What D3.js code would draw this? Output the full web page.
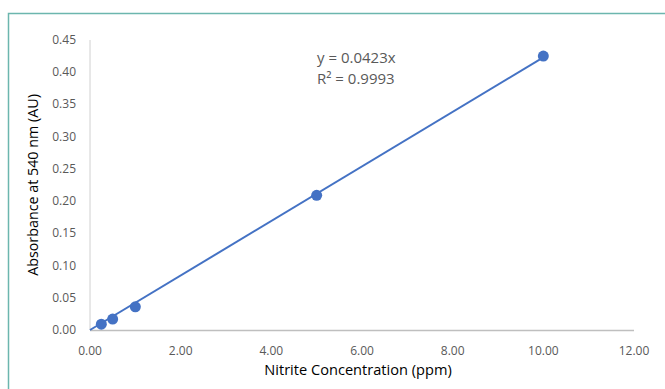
<!DOCTYPE html>
<html><head><meta charset="utf-8">
<script src="https://cdn.jsdelivr.net/npm/d3@7"></script>
<style>body{margin:0;background:#fff}svg{display:block}</style>
</head><body>
<svg id="c" width="665" height="389"></svg>
<script>
const concentration = [0.25, 0.5, 1, 5, 10];
const absorbance = [0.009, 0.017, 0.036, 0.209, 0.425];
const slope = 0.0423;
const xTicks = [0, 2, 4, 6, 8, 10, 12];
const yTicks = [0, 0.05, 0.10, 0.15, 0.20, 0.25, 0.30, 0.35, 0.40, 0.45];
const equationLines = ["y = 0.0423x", "R² = 0.9993"];
const xTitle = "Nitrite Concentration (ppm)";
const yTitle = "Absorbance at 540 nm (AU)";

const svg = d3.select("#c");
const font = "'Open Sans', sans-serif";
// frame
svg.append("path").attr("d","M8.5,389 V13.5 H665").attr("fill","none").attr("stroke","#6cb6ae").attr("stroke-width",1.5);

const x = d3.scaleLinear().domain([0,12]).range([90,634]);
const y = d3.scaleLinear().domain([0,0.45]).range([330,40]);

// axes lines
svg.append("line").attr("x1",x(0)).attr("x2",x(0)).attr("y1",y(0.45)).attr("y2",y(0)).attr("stroke","#d0d0d0").attr("stroke-width",1);
svg.append("line").attr("x1",x(0)).attr("x2",x(12)).attr("y1",y(0)+0.5).attr("y2",y(0)+0.5).attr("stroke","#bfbfbf").attr("stroke-width",1.5);

svg.append("g").selectAll("text").data(yTicks).join("text")
  .attr("x",76).attr("y",d=>y(d)+4).attr("text-anchor","end")
  .attr("font-family",font).attr("font-size",12).attr("fill","#595959")
  .text(d=>d.toFixed(2));
svg.append("g").selectAll("text").data(xTicks).join("text")
  .attr("x",d=>x(d)).attr("y",355).attr("text-anchor","middle")
  .attr("font-family",font).attr("font-size",12).attr("fill","#595959")
  .text(d=>d.toFixed(2));

svg.append("text").attr("x",358).attr("y",375).attr("text-anchor","middle")
  .attr("font-family",font).attr("font-size",14.6).attr("fill","#000").text(xTitle);
svg.append("text").attr("transform","translate(38,185) rotate(-90)").attr("text-anchor","middle")
  .attr("font-family",font).attr("font-size",14.3).attr("fill","#000").text(yTitle);

// trendline
svg.append("line").attr("x1",x(0)).attr("y1",y(0)).attr("x2",x(10)).attr("y2",y(slope*10))
  .attr("stroke","#4472c4").attr("stroke-width",2);

svg.append("g").selectAll("circle").data(concentration).join("circle")
  .attr("cx",(d)=>x(d)).attr("cy",(d,i)=>y(absorbance[i])).attr("r",5.5)
  .attr("fill","#4472c4");

svg.append("g").selectAll("text").data(equationLines).join("text")
  .attr("x",317).attr("y",(d,i)=>63+i*21)
  .attr("font-family",font).attr("font-size",15).attr("fill","#595959").text(d=>d);
</script>
</body></html>
